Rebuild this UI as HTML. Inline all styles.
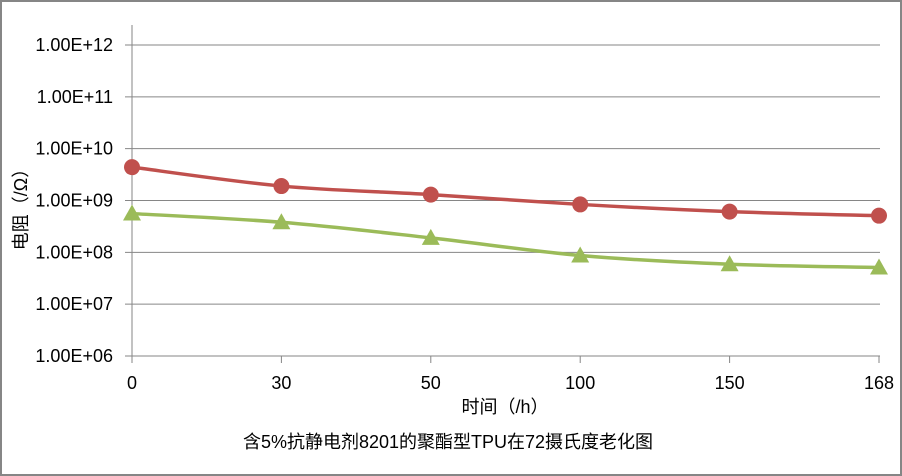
<!DOCTYPE html>
<html><head><meta charset="utf-8"><style>
body{margin:0;background:#fff}
svg{display:block;font-family:"Liberation Sans","Noto Sans CJK SC",sans-serif}
</style></head><body>
<svg width="902" height="476" viewBox="0 0 902 476">
<rect x="1" y="1" width="900" height="474" fill="#fff" stroke="#868686" stroke-width="2"/>
<g id="grid"></g><g id="series"></g>
<text x="505" y="413" font-size="18" text-anchor="middle" fill="#000">时间（/h）</text>
<text x="448" y="448" font-size="18" text-anchor="middle" fill="#000">含5%抗静电剂8201的聚酯型TPU在72摄氏度老化图</text>
<text transform="translate(27,205) rotate(-90)" font-size="18" text-anchor="middle" fill="#000">电阻（/Ω）</text>
</svg>
<script>
const categories=["0","30","50","100","150","168"];
const yTickExps=[6,7,8,9,10,11,12];
const yTickLabels=["1.00E+06","1.00E+07","1.00E+08","1.00E+09","1.00E+10","1.00E+11","1.00E+12"];
const seriesRed=[4.4e9,1.9e9,1.3e9,8.4e8,6.1e8,5.1e8];
const seriesGreen=[5.6e8,3.8e8,1.9e8,8.7e7,5.9e7,5.1e7];
const NS="http://www.w3.org/2000/svg";
const X0=132,X1=879,Y6=356,DEC=51.83;
function xs(i){return X0+i*(X1-X0)/(categories.length-1);}
function ys(v){return Y6-(Math.log10(v)-6)*DEC;}
function mk(t,a,p){const e=document.createElementNS(NS,t);for(const k in a)e.setAttribute(k,a[k]);p.appendChild(e);return e;}
const g=document.getElementById('grid');
const yAxis=mk('line',{x1:X0,x2:X0,y1:25,y2:Y6,stroke:'#868686'},g);


yTickExps.forEach((ex,i)=>{const y=ys(Math.pow(10,ex));
 const l=mk('line',{x1:125,x2:X1+1,y1:y,y2:y,stroke:'#868686'},g);
 
 
 const t=mk('text',{x:113,y:y+6,'font-size':18,'text-anchor':'end',fill:'#000'},g);t.textContent=yTickLabels[i];
 
 });
categories.forEach((c,i)=>{const x=xs(i);
 const l=mk('line',{x1:x,x2:x,y1:Y6,y2:Y6+7,stroke:'#868686'},g);
 
 
 const t=mk('text',{x:x,y:389,'font-size':18,'text-anchor':'middle',fill:'#000'},g);t.textContent=c;
 
 });
function smooth(pts){let d=`M${pts[0][0]},${pts[0][1]}`;
 for(let i=0;i<pts.length-1;i++){const p0=pts[Math.max(i-1,0)],p1=pts[i],p2=pts[i+1],p3=pts[Math.min(i+2,pts.length-1)];
 const c1=[p1[0]+(p2[0]-p0[0])/6,p1[1]+(p2[1]-p0[1])/6],c2=[p2[0]-(p3[0]-p1[0])/6,p2[1]-(p3[1]-p1[1])/6];
 d+=` C${c1[0]},${c1[1]} ${c2[0]},${c2[1]} ${p2[0]},${p2[1]}`;}return d;}
const s=document.getElementById('series');
function draw(vals,color,shape,name){const pts=vals.map((v,i)=>[xs(i),ys(v)]);
 const p=mk('path',{d:smooth(pts),fill:'none',stroke:color,'stroke-width':3.5},s);
 
 
 pts.forEach(q=>{let m;
  if(shape==='circle')m=mk('circle',{cx:q[0],cy:q[1],r:8,fill:color},s);
  else m=mk('polygon',{points:`${q[0]},${q[1]-9} ${q[0]-9},${q[1]+7} ${q[0]+9},${q[1]+7}`,fill:color},s);
  
  });}
draw(seriesRed,'#c0504d','circle','series-red');
draw(seriesGreen,'#9bbb59','tri','series-green');
</script>
</body></html>
